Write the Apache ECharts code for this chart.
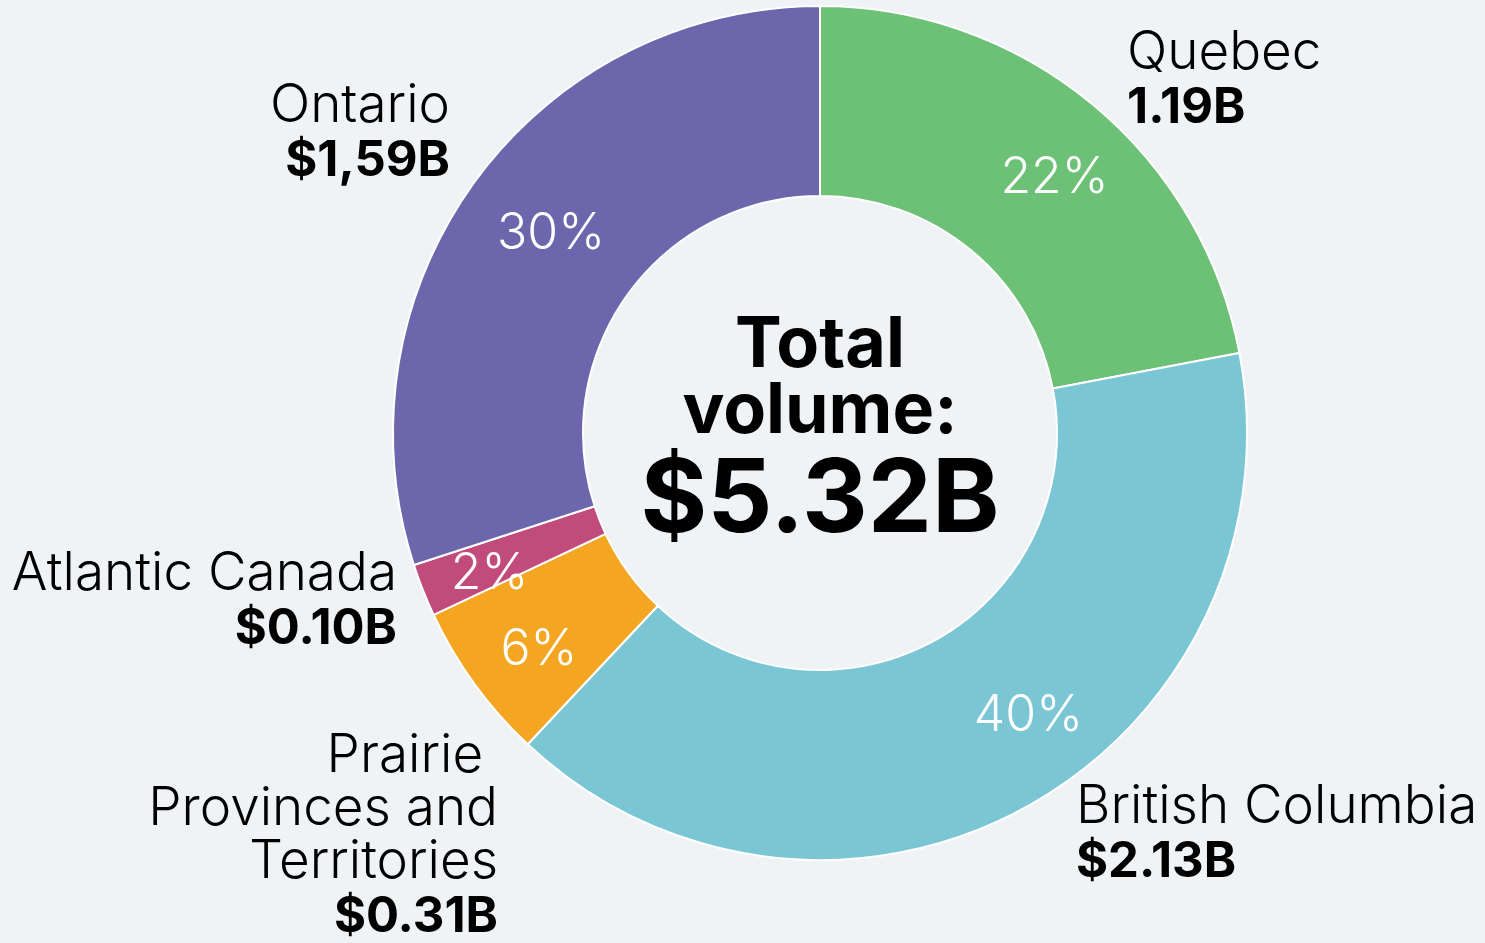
<!DOCTYPE html>
<html>
<head>
<meta charset="utf-8">
<script src="https://cdn.jsdelivr.net/npm/echarts@6/dist/echarts.min.js"></script>
<style>
html,body{margin:0;padding:0;background:#eff3f6;}
#chart{width:1485px;height:943px;}
</style>
</head>
<body>
<div id="chart"></div>
<script>
const regions = ['Quebec', 'British Columbia', 'Prairie Provinces and Territories', 'Atlantic Canada', 'Ontario'];
const shares = [22, 40, 6, 2, 30];            // % share drawn by the ring
const volumes = [1.19, 2.13, 0.31, 0.10, 1.59]; // $B
const nameLabels = [['Quebec'], ['British Columbia'], ['Prairie ', 'Provinces and', 'Territories'], ['Atlantic Canada'], ['Ontario']];
const valueLabels = ['1.19B', '$2.13B', '$0.31B', '$0.10B', '$1,59B'];
const totalLabel = '$5.32B';
const colors = ['#6dc177', '#7ac6d4', '#f4a623', '#c14b7a', '#6c66ad'];

// label block layout: [x, top, align]
const labelLayout = [
  [1127, 27, 'left'],
  [1076, 781, 'left'],
  [498, 730, 'right'],
  [397, 548, 'right'],
  [450, 80, 'right']
];
// nudges of the % labels from the ring's mid point
const pctOffsets = [[21, 3], [47, -11], [-10, 20], [-19, 18], [2, -2]];

const FONT = 'Inter, "Noto Sans", sans-serif';
const chart = echarts.init(document.getElementById('chart'));

const graphics = regions.map((r, i) => {
  const lay = labelLayout[i];
  const txt = nameLabels[i].map(s => '{n|' + s + '}').join('\n') + '\n{v|' + valueLabels[i] + '}';
  return {
    type: 'text',
    x: lay[0], y: lay[1],
    style: {
      text: txt,
      align: lay[2],
      verticalAlign: 'top',
      rich: {
        n: {fontFamily: FONT, fontSize: 53, fontWeight: 300, lineHeight: 53, fill: '#000', align: lay[2]},
        v: {fontFamily: FONT, fontSize: 49, fontWeight: 700, lineHeight: 56, fill: '#000', align: lay[2]}
      }
    }
  };
});

graphics.push({
  type: 'text', x: 820, y: 313,
  style: {
    text: '{a|Total}\n{a|volume:}\n{b|' + totalLabel + '}',
    align: 'center', verticalAlign: 'top',
    rich: {
      a: {fontFamily: FONT, fontSize: 70, fontWeight: 700, lineHeight: 66, fill: '#000', align: 'center'},
      b: {fontFamily: FONT, fontSize: 102, fontWeight: 700, lineHeight: 112, fill: '#000', align: 'center'}
    }
  }
});

chart.setOption({
  backgroundColor: '#eff3f6',
  animation: false,
  color: colors,
  graphic: graphics,
  series: [{
    type: 'pie',
    center: [820, 433],
    radius: [237, 427],
    startAngle: 90,
    clockwise: true,
    avoidLabelOverlap: false,
    itemStyle: {borderColor: '#ffffff', borderWidth: 2},
    label: {
      show: true,
      position: 'inside',
      formatter: p => Math.round(p.percent) + '%',
      color: '#ffffff',
      fontFamily: FONT,
      fontSize: 50,
      fontWeight: 300
    },
    labelLine: {show: false},
    data: regions.map((r, i) => ({
      name: r,
      value: shares[i],
      volume: volumes[i],
      label: {offset: pctOffsets[i]}
    }))
  }]
});
</script>
</body>
</html>
